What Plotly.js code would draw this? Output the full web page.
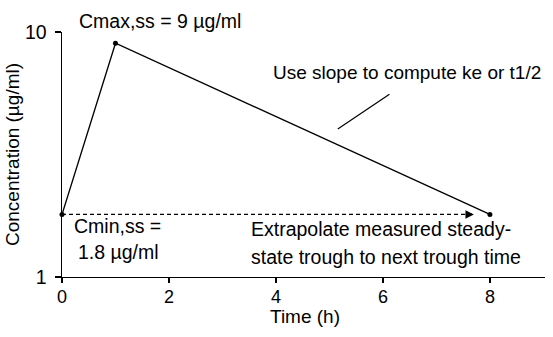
<!DOCTYPE html>
<html>
<head>
<meta charset="utf-8">
<script src="https://cdn.plot.ly/plotly-3.0.1.min.js"></script>
<style>html,body{margin:0;padding:0;background:#fff;}#chart{width:553px;height:337px;}</style>
</head>
<body>
<div id="chart"></div>
<script>
// Data
const timeH = [0, 1, 8];
const concentration = [1.8, 9, 1.8];
const troughArrowX = [0, 7.7];
const troughArrowY = [1.8, 1.8];
const xTickVals = [0, 2, 4, 6, 8];
const yTickVals = [1, 10];
const yTickText = ['1', '10'];

const FONT = 'Liberation Sans, Arial, Helvetica, sans-serif';
const FS = 19.5;

const traces = [
  {
    x: troughArrowX, y: troughArrowY, type: 'scatter', mode: 'lines',
    line: {color: '#000', width: 1.2, dash: '4px,3px'},
    hoverinfo: 'skip', cliponaxis: false
  },
  {
    x: timeH, y: concentration, type: 'scatter', mode: 'lines+markers',
    line: {color: '#000', width: 1.3},
    marker: {color: '#000', size: 5},
    cliponaxis: false
  }
];

const layout = {
  width: 553, height: 337,
  margin: {l: 62, r: 8, t: 32, b: 60},
  paper_bgcolor: '#fff', plot_bgcolor: '#fff',
  showlegend: false,
  font: {family: FONT, size: FS, color: '#000'},
  xaxis: {
    range: [0, 9.03], tickvals: xTickVals, ticks: 'outside', ticklen: 5,
    tickwidth: 1.2, tickcolor: '#000', showline: true, linecolor: '#000', linewidth: 1.4,
    showgrid: false, zeroline: false, tickfont: {size: 18}, ticklabelstandoff: -2
  },
  yaxis: {
    type: 'log', range: [0, 1], tickvals: yTickVals, ticktext: yTickText,
    ticks: 'outside', ticklen: 6, tickwidth: 1.2, tickcolor: '#000',
    showline: true, linecolor: '#000', linewidth: 1.4, ticklabelstandoff: 4,
    showgrid: false, zeroline: false, tickfont: {size: 19.5},
    title: {text: 'Concentration (\u00b5g/ml)', font: {size: 19}, standoff: 0}
  },
  shapes: [
    {type: 'line', xref: 'paper', yref: 'paper', x0: 0.571, y0: 0.604, x1: 0.678, y1: 0.746,
     line: {color: '#000', width: 1.2}}
  ],
  annotations: [
    {text: 'Time (h)', xref: 'paper', yref: 'paper', x: 0.503, y: -0.16,
     xanchor: 'center', yanchor: 'middle', showarrow: false, font: {size: 19}},
    {text: 'Cmax,ss = 9 \u00b5g/ml', xref: 'paper', yref: 'paper', x: 0.031, y: 1.045,
     xanchor: 'left', yanchor: 'middle', showarrow: false},
    {text: 'Use slope to compute ke or t1/2', xref: 'paper', yref: 'paper', x: 0.433, y: 0.833,
     xanchor: 'left', yanchor: 'middle', showarrow: false, font: {size: 19}},
    {text: 'Cmin,ss =', xref: 'paper', yref: 'paper', x: 0.021, y: 0.208,
     xanchor: 'left', yanchor: 'middle', showarrow: false},
    {text: '1.8 \u00b5g/ml', xref: 'paper', yref: 'paper', x: 0.029, y: 0.102,
     xanchor: 'left', yanchor: 'middle', showarrow: false},
    {text: 'Extrapolate measured steady-', xref: 'paper', yref: 'paper', x: 0.387, y: 0.196,
     xanchor: 'left', yanchor: 'middle', showarrow: false},
    {text: 'state trough to next trough time', xref: 'paper', yref: 'paper', x: 0.387, y: 0.0816,
     xanchor: 'left', yanchor: 'middle', showarrow: false},
    {text: '', x: troughArrowX[1], y: Math.log10(troughArrowY[1]), xref: 'x', yref: 'y',
     ax: -8, ay: 0, axref: 'pixel', ayref: 'pixel', showarrow: true,
     arrowhead: 2, arrowsize: 1.4, arrowwidth: 1.2, arrowcolor: '#000'}
  ]
};

Plotly.newPlot('chart', traces, layout, {displayModeBar: false, staticPlot: true});
</script>
</body>
</html>
